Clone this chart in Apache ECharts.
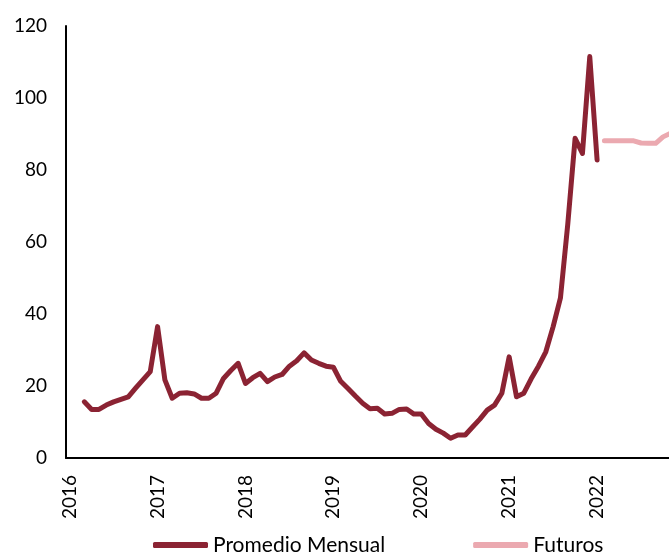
<!DOCTYPE html>
<html>
<head>
<meta charset="utf-8">
<script src="https://cdn.jsdelivr.net/npm/echarts@6/dist/echarts.min.js"></script>
<style>
html,body{margin:0;padding:0;background:#fff;}
#chart{width:669px;height:556px;}
</style>
</head>
<body>
<div id="chart"></div>
<script>
// Monthly categories Jan 2016 .. Nov 2022
const months = [];
for (let y = 2016; y <= 2022; y++) {
  for (let m = 1; m <= 12; m++) {
    if (y === 2022 && m > 11) break;
    months.push(y + '-' + (m < 10 ? '0' + m : m));
  }
}
const yTicks = [0, 20, 40, 60, 80, 100, 120];

// Promedio Mensual: Jan 2016 .. Jan 2022
const promedio = [
  null, null, 15.6, 13.5, 13.5, 14.7, 15.6, 16.3, 17.0, 19.4, 21.7, 24.0,
  36.5, 21.7, 16.6, 18.0, 18.1, 17.8, 16.6, 16.6, 18.0, 22.1, 24.3, 26.3,
  20.7, 22.3, 23.5, 21.2, 22.5, 23.2, 25.5, 27.0, 29.2, 27.2, 26.3, 25.5,
  25.2, 21.3, 19.3, 17.2, 15.2, 13.7, 13.8, 12.2, 12.4, 13.5, 13.6, 12.2,
  12.2, 9.6, 8.0, 6.9, 5.5, 6.4, 6.4, 8.6, 10.8, 13.3, 14.7, 18.0,
  28.1, 17.0, 18.0, 22.0, 25.5, 29.5, 36.5, 44.5, 65.0, 88.8, 84.6, 111.5,
  82.8
];
// Futuros: Feb 2022 .. Nov 2022
const futuros = [88.1, 88.1, 88.1, 88.1, 88.1, 87.5, 87.4, 87.4, 89.2, 90.2];

const promedioData = months.map((m, i) => (i < promedio.length ? promedio[i] : null));
const futStart = promedio.length;
const futurosData = months.map((m, i) => (i >= futStart && i - futStart < futuros.length ? futuros[i - futStart] : null));

const FONT = 'Lato';
const chart = echarts.init(document.getElementById('chart'), null, { renderer: 'canvas' });
chart.setOption({
  animation: false,
  backgroundColor: '#ffffff',
  textStyle: { fontFamily: FONT, color: '#000' },
  grid: { left: 66, width: 608, top: 26, bottom: 98, containLabel: false, outerBoundsMode: 'none' },
  legend: {
    left: 153,
    top: 534,
    padding: 0,
    icon: 'roundRect',
    itemWidth: 55,
    itemHeight: 6,
    itemGap: 88,
    textStyle: { fontFamily: FONT, fontSize: 21, lineHeight: 22, color: '#000' },
    data: ['Promedio Mensual', 'Futuros']
  },
  xAxis: {
    type: 'category',
    data: months,
    boundaryGap: true,
    axisLine: { show: true, lineStyle: { color: '#000', width: 2 } },
    axisTick: { show: false },
    splitLine: { show: false },
    axisLabel: {
      rotate: 90,
      margin: 17,
      fontFamily: FONT,
      fontSize: 19,
      color: '#000',
      interval: (i) => i % 12 === 0,
      formatter: (v) => v.slice(0, 4)
    }
  },
  yAxis: {
    type: 'value',
    min: yTicks[0],
    max: yTicks[yTicks.length - 1],
    interval: 20,
    axisLine: { show: true, lineStyle: { color: '#000', width: 2 } },
    axisTick: { show: false },
    splitLine: { show: false },
    axisLabel: { margin: 19, fontFamily: FONT, fontSize: 19, color: '#000' }
  },
  series: [
    {
      name: 'Promedio Mensual',
      type: 'line',
      data: promedioData,
      showSymbol: false,
      symbol: 'none',
      lineStyle: { color: '#8B2333', width: 5, cap: 'round', join: 'round' },
      itemStyle: { color: '#8B2333' }
    },
    {
      name: 'Futuros',
      type: 'line',
      data: futurosData,
      showSymbol: false,
      symbol: 'none',
      lineStyle: { color: '#EBA9B0', width: 5, cap: 'round', join: 'round' },
      itemStyle: { color: '#EBA9B0' }
    }
  ]
});
</script>
</body>
</html>
